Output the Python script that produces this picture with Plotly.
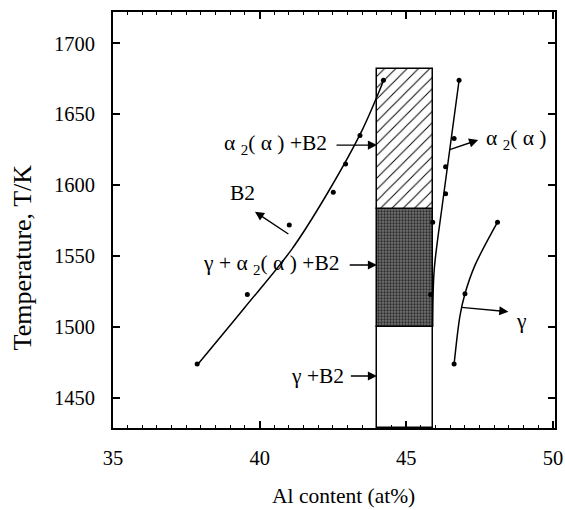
import plotly.graph_objects as go

# ---------------- data ----------------
# B2 boundary (left curve)
b2_al_pts = [37.87, 39.58, 41.01, 42.51, 42.93, 43.42, 44.22]
b2_t_pts = [1474, 1523, 1572, 1595, 1615, 1635, 1674]
b2_al_fit = [37.9, 39.5, 41.1, 42.3, 43.5, 44.25]
b2_t_fit = [1474, 1514, 1555, 1594, 1639, 1675]

# alpha2(alpha) boundary (middle curve)
a2_al_pts = [46.8, 46.63, 46.34, 46.34, 45.9, 45.83]
a2_t_pts = [1674, 1633, 1613, 1594, 1574, 1523]
a2_al_fit = [46.8, 46.24, 45.95, 45.9]
a2_t_fit = [1674, 1588, 1540, 1500]

# gamma boundary (right curve)
g_al_pts = [48.11, 47.0, 46.63]
g_t_pts = [1574, 1523.5, 1474]
g_al_fit = [46.63, 46.83, 47.0, 47.34, 48.11]
g_t_fit = [1474, 1508, 1523.5, 1543.5, 1574]

# composition window of the boxed region (at%)
box_al = [44.0, 45.9]
# temperature limits of the three phase fields (K)
box_t_levels = [1428.9, 1500, 1583, 1682]

x_range = [35, 50.07]
t_range = [1428.9, 1722.1]
x_ticks = [35, 40, 45, 50]
t_ticks = [1450, 1500, 1550, 1600, 1650, 1700]

FONT = "'Liberation Serif', 'DejaVu Serif', 'Times New Roman', serif"

fig = go.Figure()

box_center = (box_al[0] + box_al[1]) / 2
box_width = box_al[1] - box_al[0]

# gamma + B2 (white), gamma+alpha2+B2 (dark stipple), alpha2+B2 (hatched)
fig.add_trace(go.Bar(
    x=[box_center], y=[box_t_levels[1] - box_t_levels[0]], base=[box_t_levels[0]],
    width=[box_width], marker=dict(color="white", line=dict(color="black", width=1.5)),
    showlegend=False, hoverinfo="skip"))
fig.add_trace(go.Bar(
    x=[box_center], y=[box_t_levels[2] - box_t_levels[1]], base=[box_t_levels[1]],
    width=[box_width],
    marker=dict(color="#5e5e5e", line=dict(color="black", width=1.5),
                pattern=dict(shape=".", fgcolor="#2c2c2c", bgcolor="#727272",
                             size=3, solidity=0.45, fillmode="replace")),
    showlegend=False, hoverinfo="skip"))
fig.add_trace(go.Bar(
    x=[box_center], y=[box_t_levels[3] - box_t_levels[2]], base=[box_t_levels[2]],
    width=[box_width],
    marker=dict(color="white", line=dict(color="black", width=1.5),
                pattern=dict(shape="/", fgcolor="black", bgcolor="white",
                             size=8, solidity=0.12, fillmode="replace")),
    showlegend=False, hoverinfo="skip"))

line_style = dict(color="black", width=1.5, shape="spline", smoothing=0.9)
mk = dict(color="black", size=5)

for fx, fy, px, py in [(b2_al_fit, b2_t_fit, b2_al_pts, b2_t_pts),
                       (a2_al_fit, a2_t_fit, a2_al_pts, a2_t_pts),
                       (g_al_fit, g_t_fit, g_al_pts, g_t_pts)]:
    fig.add_trace(go.Scatter(x=fx, y=fy, mode="lines", line=line_style,
                             showlegend=False, hoverinfo="skip"))
    fig.add_trace(go.Scatter(x=px, y=py, mode="markers", marker=mk,
                             showlegend=False, hoverinfo="skip"))

# ---------------- labels and arrows ----------------
tf = dict(family=FONT, size=21.5, color="black")

def label(text, x, y, xanchor="center"):
    fig.add_annotation(x=x, y=y, xref="x", yref="y", text=text, showarrow=False,
                       font=tf, xanchor=xanchor, yanchor="middle")

def arrow(x0, y0, x1, y1):
    fig.add_annotation(x=x1, y=y1, ax=x0, ay=y0, xref="x", yref="y",
                       axref="x", ayref="y", text="", showarrow=True,
                       arrowhead=2, arrowsize=1.3, arrowwidth=1.4,
                       arrowcolor="black", standoff=0, startstandoff=0)

label("α <sub>2</sub>( α ) +B2", 42.36, 1628.5, "right")
arrow(42.57, 1628.3, 44.0, 1628.3)

label("B2", 39.43, 1594.3)
arrow(41.03, 1564.9, 39.84, 1581.3)

label("γ + α <sub>2</sub>( α ) +B2", 42.76, 1544.0, "right")
arrow(43.02, 1543.8, 44.0, 1543.8)

label("γ +B2", 42.93, 1465.6, "right")
arrow(43.06, 1465.6, 44.0, 1465.6)

label("α <sub>2</sub>( α )", 47.66, 1632.0, "left")
arrow(46.43, 1624.8, 47.45, 1631.9)

label("γ", 48.93, 1504.5)
arrow(46.83, 1514.0, 48.48, 1510.9)

# axis titles (placed as in the reference)
fig.add_annotation(text="Al content (at%)", xref="paper", yref="paper",
                   x=0.521, y=-0.163, xanchor="center", yanchor="middle",
                   showarrow=False, font=dict(family=FONT, size=21.5, color="black"))
fig.add_annotation(text="Temperature, T/K", xref="paper", yref="paper",
                   x=-0.206, y=0.41, xanchor="center", yanchor="middle", textangle=-90,
                   showarrow=False, font=dict(family=FONT, size=26, color="black"))

fig.update_layout(
    width=565, height=510,
    margin=dict(l=113, r=10, t=12, b=82, autoexpand=False),
    paper_bgcolor="white", plot_bgcolor="white",
    font=dict(family=FONT, size=20, color="black"),
    barmode="overlay", bargap=0,
    showlegend=False,
)

fig.update_xaxes(
    range=x_range, tickvals=x_ticks, ticktext=[str(v) for v in x_ticks],
    ticks="inside", ticklen=7, tickwidth=1.5, tickcolor="black",
    minor=dict(dtick=0.5, ticks="inside", ticklen=3, tickwidth=1, tickcolor="black"),
    showline=True, linewidth=2, linecolor="black", mirror="ticks",
    showgrid=False, zeroline=False, ticklabelstandoff=10, automargin=False,
    tickfont=dict(family=FONT, size=20.5),
)
fig.update_yaxes(
    range=t_range, tickvals=t_ticks, ticktext=[str(v) for v in t_ticks],
    ticks="inside", ticklen=7, tickwidth=1.5, tickcolor="black",
    showline=True, linewidth=2, linecolor="black", mirror="ticks",
    showgrid=False, zeroline=False, ticklabelstandoff=12, automargin=False,
    tickfont=dict(family=FONT, size=20.5),
)

fig.write_html("out.html", config={"displayModeBar": False},
               post_script="document.body.style.margin='0';document.body.style.padding='0';")
